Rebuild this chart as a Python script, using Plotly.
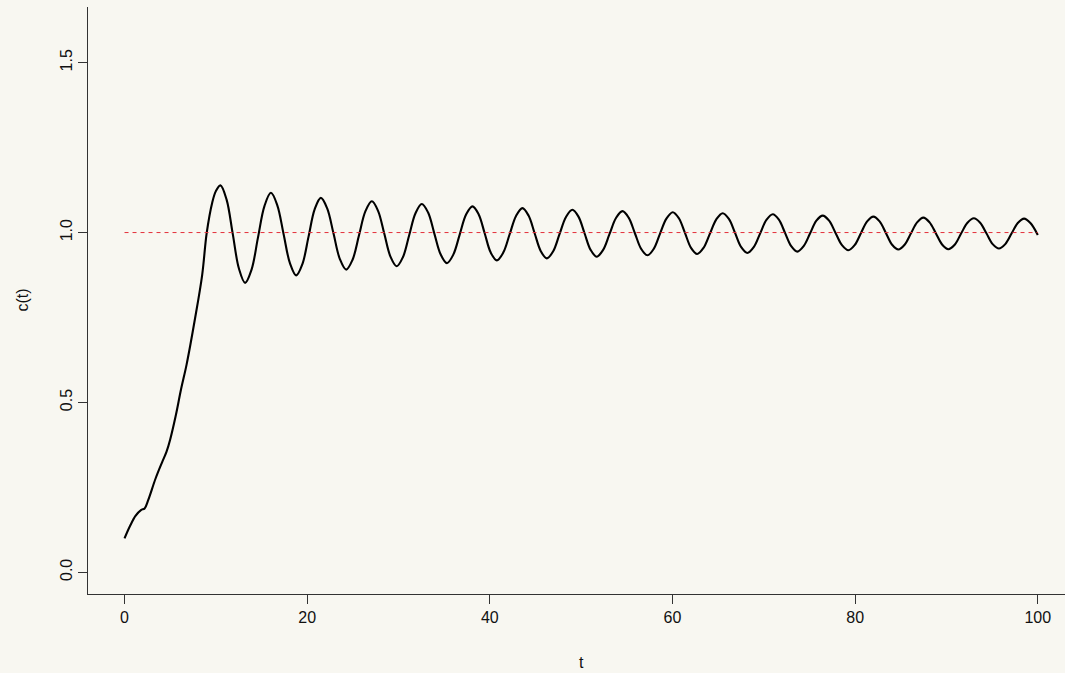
import plotly.graph_objects as go

# Step response c(t): time samples and response values
t = [
    0.0, 0.6, 1.2, 1.8, 2.2, 2.6, 3.4, 4.1, 4.6, 5.0, 5.6, 6.2, 6.8, 7.7, 8.5, 9.0, 9.6, 10.0,
    10.50, 11.175, 11.85, 12.525,
    13.20, 13.91, 14.61, 15.32,
    16.03, 16.72, 17.415, 18.11,
    18.80, 19.475, 20.15, 20.825,
    21.50, 22.19, 22.885, 23.58,
    24.27, 24.97, 25.675, 26.38,
    27.08, 27.76, 28.44, 29.12,
    29.80, 30.49, 31.175, 31.86,
    32.55, 33.24, 33.925, 34.61,
    35.30, 36.00, 36.70, 37.40,
    38.10, 38.77, 39.435, 40.10,
    40.77, 41.47, 42.17, 42.87,
    43.57, 44.24, 44.905, 45.57,
    46.24, 46.94, 47.64, 48.34,
    49.04, 49.705, 50.37, 51.035,
    51.70, 52.405, 53.11, 53.815,
    54.52, 55.20, 55.885, 56.57,
    57.25, 57.945, 58.64, 59.335,
    60.03, 60.70, 61.365, 62.03,
    62.70, 63.40, 64.10, 64.80,
    65.50, 66.175, 66.85, 67.525,
    68.20, 68.895, 69.59, 70.285,
    70.98, 71.65, 72.325, 73.00,
    73.67, 74.365, 75.06, 75.755,
    76.45, 77.15, 77.855, 78.56,
    79.26, 79.945, 80.63, 81.315,
    82.00, 82.68, 83.365, 84.05,
    84.73, 85.415, 86.10, 86.785,
    87.47, 88.15, 88.835, 89.52,
    90.20, 90.90, 91.60, 92.30,
    93.00, 93.69, 94.375, 95.06,
    95.75, 96.44, 97.125, 97.81,
    98.50, 99.19, 100.0,
]
c = [
    0.100, 0.136, 0.166, 0.183, 0.188, 0.213, 0.276, 0.323, 0.355, 0.391, 0.460, 0.540, 0.612, 0.744, 0.875, 0.999, 1.088, 1.122,
    1.139, 1.097, 0.996, 0.894,
    0.852, 0.891, 0.985, 1.078,
    1.117, 1.081, 0.996, 0.910,
    0.874, 0.907, 0.988, 1.069,
    1.102, 1.071, 0.997, 0.922,
    0.891, 0.920, 0.992, 1.063,
    1.092, 1.064, 0.997, 0.929,
    0.901, 0.928, 0.993, 1.057,
    1.084, 1.059, 0.997, 0.936,
    0.910, 0.935, 0.994, 1.053,
    1.077, 1.054, 0.998, 0.941,
    0.918, 0.941, 0.995, 1.049,
    1.072, 1.050, 0.998, 0.946,
    0.924, 0.945, 0.996, 1.046,
    1.067, 1.047, 0.998, 0.949,
    0.929, 0.949, 0.996, 1.043,
    1.063, 1.044, 0.998, 0.952,
    0.933, 0.952, 0.997, 1.041,
    1.060, 1.042, 0.999, 0.955,
    0.937, 0.955, 0.997, 1.039,
    1.057, 1.040, 0.999, 0.957,
    0.940, 0.957, 0.997, 1.037,
    1.054, 1.038, 0.999, 0.960,
    0.944, 0.960, 0.997, 1.035,
    1.050, 1.035, 0.999, 0.963,
    0.948, 0.963, 0.998, 1.033,
    1.047, 1.033, 0.999, 0.964,
    0.950, 0.964, 0.997, 1.030,
    1.044, 1.030, 0.998, 0.965,
    0.951, 0.964, 0.997, 1.029,
    1.042, 1.029, 0.998, 0.966,
    0.953, 0.966, 0.997, 1.028,
    1.041, 1.028, 0.993,
]

# Set-point reference line
ref_t = [0, 100]
ref_c = [1.0, 1.0]

x_ticks = [0, 20, 40, 60, 80, 100]
y_ticks = [0.0, 0.5, 1.0, 1.5]
y_tick_text = ["0.0", "0.5", "1.0", "1.5"]

BG = "#F8F7F1"
AXIS = "#333333"
FONT = "Liberation Sans, Arial, Helvetica, sans-serif"

fig = go.Figure()
fig.add_trace(go.Scatter(
    x=t, y=c, mode="lines",
    line=dict(color="black", width=2.1, shape="spline", smoothing=1.0),
    hoverinfo="skip", showlegend=False,
))
fig.add_trace(go.Scatter(
    x=ref_t, y=ref_c, mode="lines",
    line=dict(color="#E3303A", width=1, dash="4px,4px"),
    hoverinfo="skip", showlegend=False,
))

fig.update_layout(
    width=1065, height=673,
    paper_bgcolor=BG, plot_bgcolor=BG,
    margin=dict(l=88, r=0, t=7, b=79),
    font=dict(family=FONT, size=16, color="#111111"),
    xaxis=dict(
        range=[-4, 102.98], tickvals=x_ticks, ticks="outside", ticklen=9,
        tickcolor=AXIS, tickwidth=1, showline=True, linecolor=AXIS, linewidth=1,
        showgrid=False, zeroline=False, tickfont=dict(size=16),
    ),
    yaxis=dict(
        range=[-0.064, 1.664], tickvals=y_ticks, ticktext=y_tick_text,
        ticks="outside", ticklen=9, tickcolor=AXIS, tickwidth=1, tickangle=-90,
        showline=True, linecolor=AXIS, linewidth=1,
        showgrid=False, zeroline=False, tickfont=dict(size=16),
    ),
    annotations=[
        dict(text="t", xref="paper", yref="paper", x=(581 - 88) / 977,
             y=(594 - 662) / 587, showarrow=False, xanchor="center",
             yanchor="middle", font=dict(size=16)),
        dict(text="c(t)", xref="paper", yref="paper", x=(22 - 88) / 977,
             y=0.5, showarrow=False, textangle=-90, xanchor="center",
             yanchor="middle", font=dict(size=16)),
    ],
)

fig.write_html("out.html")
